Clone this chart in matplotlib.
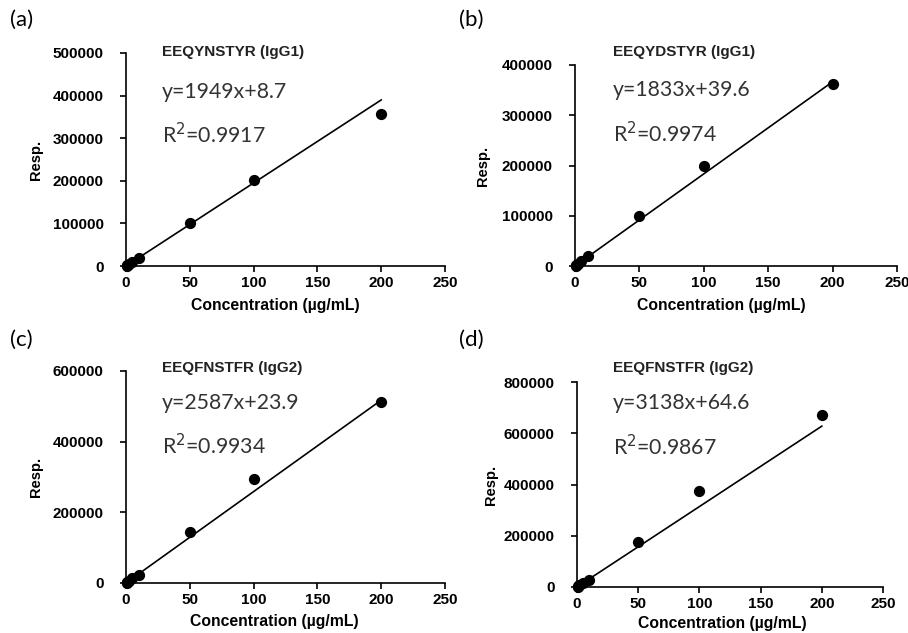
import matplotlib.pyplot as plt

# concentrations (ug/mL)
conc = [0.5, 1, 2, 5, 10, 50, 100, 200]

resp_a = [900, 2000, 4000, 10000, 19600, 102000, 203000, 357000]
resp_b = [900, 1900, 3800, 9500, 19300, 99200, 200000, 362000]
resp_c = [1200, 2600, 5200, 13000, 22000, 144600, 294000, 512000]
resp_d = [1500, 3100, 6300, 15500, 28600, 176900, 373000, 672500]

slopes = [1949, 1833, 2587, 3138]
intercepts = [8.7, 39.6, 23.9, 64.6]
r2 = ['0.9917', '0.9974', '0.9934', '0.9867']
peptides = ['EEQYNSTYR (IgG1)', 'EEQYDSTYR (IgG1)', 'EEQFNSTFR (IgG2)', 'EEQFNSTFR (IgG2)']
panel_tags = ['(a)', '(b)', '(c)', '(d)']
ymax = [500000, 400000, 600000, 800000]
ystep = [100000, 100000, 200000, 200000]

W, H = 908, 633
# axes boxes in pixels: left, right, top, bottom
boxes = [(126, 445, 53, 266), (575, 897, 65, 266),
         (126, 445, 371, 583), (577, 883, 382, 587)]
# text y positions in axes fraction: title, equation, r2
text_y = [(1.005, 0.817, 0.615), (1.065, 0.876, 0.66),
          (1.014, 0.849, 0.646), (1.068, 0.898, 0.683)]
text_x = [0.113, 0.118, 0.113, 0.118]
tag_pos = [(10, 20), (459, 20), (10, 340), (459, 340)]
ylab_x = [43, 490, 43, 498]
xlab_pos = [(275, 298), (721, 298), (274, 614), (722, 616)]

plt.rcParams['font.family'] = ['Liberation Sans', 'DejaVu Sans']
eq_font = ['Lato', 'DejaVu Sans']

fig = plt.figure(figsize=(W / 100, H / 100), dpi=100)
data = [resp_a, resp_b, resp_c, resp_d]

for i in range(4):
    l, r, t, b = boxes[i]
    ax = fig.add_axes([l / W, 1 - b / H, (r - l) / W, (b - t) / H])
    ax.scatter(conc, data[i], s=50, color='black', zorder=3, clip_on=False)
    xs = [0, 200]
    ax.plot(xs, [slopes[i] * x + intercepts[i] for x in xs], color='black', lw=1.2)
    ax.set_xlim(0, 250)
    ax.set_ylim(0, ymax[i])
    ax.set_xticks(range(0, 251, 50))
    ax.set_yticks(range(0, ymax[i] + 1, ystep[i]))
    ax.spines['top'].set_visible(False)
    ax.spines['right'].set_visible(False)
    for s in ['left', 'bottom']:
        ax.spines[s].set_linewidth(1.2)
    ax.tick_params(direction='out', length=4, width=1.2, labelsize=11)
    ax.tick_params(axis='x', pad=3)
    ax.tick_params(axis='y', pad=12)
    for lab in ax.get_xticklabels() + ax.get_yticklabels():
        lab.set_fontweight('bold')
    ax.set_xlabel('Concentration (\u00b5g/mL)', fontsize=11.3, fontweight='bold')
    ax.xaxis.set_label_coords((xlab_pos[i][0] - l) / (r - l), -(xlab_pos[i][1] - b) / (b - t))
    ax.set_ylabel('Resp.', fontsize=10.5, fontweight='bold')
    ax.yaxis.set_label_coords((ylab_x[i] - l) / (r - l), 0.5)

    ty, ey, ry = text_y[i]
    ax.text(text_x[i], ty, peptides[i], transform=ax.transAxes, fontsize=11,
            fontweight='bold', va='center', ha='left', color='#222222')
    ax.text(text_x[i], ey, 'y=%dx+%s' % (slopes[i], intercepts[i]), transform=ax.transAxes,
            fontsize=15.3, family=eq_font, va='center', ha='left', color='#333333')
    ax.text(text_x[i], ry, 'R$^2$=' + r2[i], transform=ax.transAxes,
            fontsize=15.3, family=eq_font, va='center', ha='left', color='#333333')

    fig.text(tag_pos[i][0] / W, 1 - tag_pos[i][1] / H, panel_tags[i], fontsize=16,
             family=eq_font, va='center', ha='left')

fig.savefig('out.png', dpi=100)
